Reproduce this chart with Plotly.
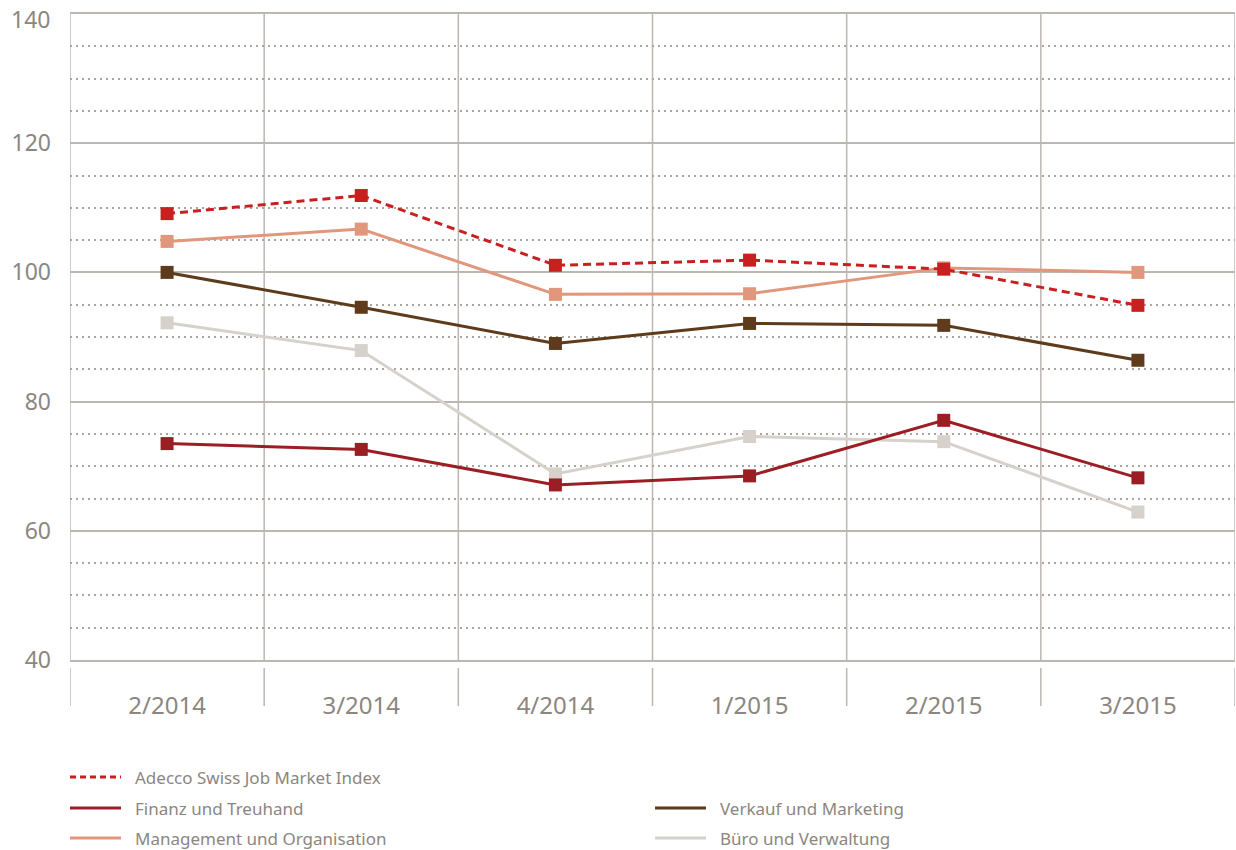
import plotly.graph_objects as go

categories = ["2/2014", "3/2014", "4/2014", "1/2015", "2/2015", "3/2015"]

y_ticks = [40, 60, 80, 100, 120, 140]

adecco = [109.1, 111.9, 101.1, 101.9, 100.5, 94.9]
finanz = [73.5, 72.6, 67.1, 68.5, 77.1, 68.2]
management = [104.8, 106.7, 96.6, 96.7, 100.7, 100.0]
verkauf = [100.0, 94.6, 89.0, 92.1, 91.8, 86.4]
buero = [92.2, 87.9, 68.8, 74.6, 73.8, 62.9]

names = {
    "adecco": "Adecco Swiss Job Market Index",
    "finanz": "Finanz und Treuhand",
    "management": "Management und Organisation",
    "verkauf": "Verkauf und Marketing",
    "buero": "Büro und Verwaltung",
}
colors = {
    "adecco": "#c8201f",
    "finanz": "#9b1e24",
    "management": "#e1977b",
    "verkauf": "#5d3b1b",
    "buero": "#d6d1cb",
}
series = {
    "adecco": adecco,
    "finanz": finanz,
    "management": management,
    "verkauf": verkauf,
    "buero": buero,
}

TEXT = "#8c8680"
GRID = "#bcb7b1"
DOT = "#aaa59f"
FONT = "Noto Sans"

W, H = 1236, 850
L, R, T, B = 70, 1, 14, 190
PW, PH = W - L - R, H - T - B

fig = go.Figure()

xs = list(range(len(categories)))
for key in ["buero", "verkauf", "management", "finanz", "adecco"]:
    fig.add_trace(go.Scatter(
        x=xs, y=series[key], name=names[key], mode="lines+markers",
        line=dict(color=colors[key], width=3, dash="8px,5px" if key == "adecco" else "solid"),
        marker=dict(symbol="square", size=13, color=colors[key], line=dict(width=0)),
        showlegend=False, cliponaxis=False,
    ))

shapes = []
# vertical boundary grid lines and separators below axis
for i in range(len(categories) + 1):
    xb = i - 0.5
    shapes.append(dict(type="line", xref="x", yref="paper", x0=xb, x1=xb, y0=0, y1=1,
                       line=dict(color=GRID, width=1.5), layer="below"))
    shapes.append(dict(type="line", xref="x", yref="paper", x0=xb, x1=xb,
                       y0=-8 / PH, y1=-46 / PH, line=dict(color=GRID, width=1.5)))

def px_x(p):
    return (p - L) / PW

def px_y(p):
    return (H - B - p) / PH

annotations = []
legend_items = [
    ("adecco", 70, 777),
    ("finanz", 70, 808),
    ("management", 70, 838),
    ("verkauf", 655, 808),
    ("buero", 655, 838),
]
for key, x0, yc in legend_items:
    shapes.append(dict(type="line", xref="paper", yref="paper",
                       x0=px_x(x0), x1=px_x(x0 + 51), y0=px_y(yc), y1=px_y(yc),
                       line=dict(color=colors[key], width=3,
                                 dash="6px,4px" if key == "adecco" else "solid")))
    annotations.append(dict(xref="paper", yref="paper", x=px_x(x0 + 63), y=px_y(yc),
                            xanchor="left", yanchor="middle", showarrow=False,
                            text=names[key], font=dict(family=FONT, size=17, color=TEXT)))

# the top tick label sits a little lower so that it stays inside the page
top_tick = y_ticks[-1]
annotations.append(dict(xref="paper", yref="y", x=0, y=top_tick, xanchor="right",
                        yanchor="middle", xshift=-18, yshift=-5, showarrow=False,
                        text=str(top_tick), font=dict(family=FONT, size=23, color=TEXT)))

fig.update_layout(
    width=W, height=H,
    margin=dict(l=L, r=R, t=T, b=B, autoexpand=False),
    paper_bgcolor="white", plot_bgcolor="white",
    showlegend=False,
    shapes=shapes, annotations=annotations,
    font=dict(family=FONT, color=TEXT),
    xaxis=dict(
        range=[-0.5, len(categories) - 0.5], automargin=False,
        tickmode="array", tickvals=xs, ticktext=categories,
        showgrid=False, zeroline=False, ticks="",
        showline=True, linecolor=GRID, linewidth=1.5, mirror=True,
        tickfont=dict(family=FONT, size=24, color=TEXT),
        ticklabelstandoff=23,
    ),
    yaxis=dict(
        range=[y_ticks[0], y_ticks[-1]], tickmode="array",
        tickvals=y_ticks[:-1], ticktext=[str(v) for v in y_ticks[:-1]],
        automargin=False,
        showgrid=True, gridcolor=GRID, gridwidth=1.5,
        zeroline=False, showline=False, ticks="",
        tickfont=dict(family=FONT, size=23, color=TEXT),
        ticklabelstandoff=18, ticklabeloverflow="allow",
        minor=dict(tickmode="linear", tick0=40, dtick=5, showgrid=True,
                   gridcolor=DOT, gridwidth=1.5, griddash="1.5px,4.5px"),
    ),
)

fig.write_html(
    "out.html",
    config={"displayModeBar": False},
    post_script="document.body.style.margin='0';document.body.style.overflow='hidden';",
)
